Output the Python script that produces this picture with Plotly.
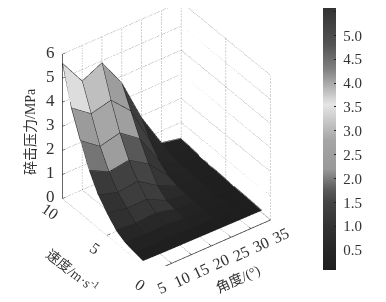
import plotly.graph_objects as go

# Data
angle = [5, 10, 15, 20, 25, 30, 35]
speed = [1, 2, 3, 4, 5, 6, 7, 8, 9, 10]
pressure = [
    [0.15, 0.13, 0.12, 0.11, 0.10, 0.09, 0.08],
    [0.22, 0.20, 0.20, 0.17, 0.14, 0.12, 0.10],
    [0.30, 0.27, 0.30, 0.22, 0.17, 0.14, 0.12],
    [0.50, 0.43, 0.50, 0.28, 0.20, 0.16, 0.13],
    [0.90, 0.75, 0.75, 0.35, 0.24, 0.18, 0.15],
    [1.35, 1.10, 1.20, 0.66, 0.28, 0.21, 0.17],
    [2.07, 1.65, 1.77, 1.25, 0.40, 0.24, 0.19],
    [3.00, 2.40, 2.60, 2.00, 0.70, 0.28, 0.22],
    [4.05, 3.45, 3.65, 2.85, 1.20, 0.36, 0.27],
    [5.60, 4.50, 4.90, 3.70, 1.90, 0.50, 0.33],
]
# Colour value of each face, read against the colour bar
face_value = [
    [0.15, 0.15, 0.15, 0.12, 0.10, 0.08],
    [0.30, 0.30, 0.30, 0.25, 0.15, 0.10],
    [0.50, 0.60, 0.60, 0.35, 0.20, 0.12],
    [0.90, 1.10, 1.10, 0.50, 0.25, 0.15],
    [1.00, 1.30, 1.30, 0.70, 0.30, 0.15],
    [1.20, 1.40, 1.50, 1.10, 0.35, 0.20],
    [1.95, 2.40, 1.75, 1.10, 0.40, 0.20],
    [2.30, 2.80, 2.50, 1.35, 0.50, 0.25],
    [3.45, 3.10, 2.40, 1.30, 0.60, 0.30],
]
x_ticks = [5, 10, 15, 20, 25, 30, 35]
y_ticks = [0, 5, 10]
z_ticks = [0, 1, 2, 3, 4, 5, 6]
cbar_ticks = [0.5, 1.0, 1.5, 2.0, 2.5, 3.0, 3.5, 4.0, 4.5, 5.0, 5.5]
cbar_values = [0.08, 0.5, 1.0, 1.5, 1.75, 2.2, 2.8, 3.55, 4.3, 4.8, 5.7]
cbar_grays = [0.12, 0.15, 0.2, 0.27, 0.35, 0.6, 0.65, 0.9, 0.5, 0.33, 0.18]

CMIN, CMAX = cbar_values[0], cbar_values[-1]
colorscale = [[(v - CMIN) / (CMAX - CMIN), f"rgb({int(g*255)},{int(g*255)},{int(g*255)})"]
              for v, g in zip(cbar_values, cbar_grays)]
SERIF = "Liberation Serif, Noto Sans CJK SC, serif"

vx, vy, vz, ii, jj, kk, cell = [], [], [], [], [], [], []
nx, ny = len(angle), len(speed)
for r in range(ny):
    for c in range(nx):
        vx.append(angle[c]); vy.append(speed[r]); vz.append(pressure[r][c])
for r in range(ny - 1):
    for c in range(nx - 1):
        a = r * nx + c; b = a + 1; d = a + nx; e = d + 1
        ii += [a, a]; jj += [b, e]; kk += [e, d]
        cell += [face_value[r][c], face_value[r][c]]

fig = go.Figure()
fig.add_trace(go.Mesh3d(
    x=vx, y=vy, z=vz, i=ii, j=jj, k=kk, intensity=cell, intensitymode="cell",
    colorscale=colorscale, cmin=CMIN, cmax=CMAX, flatshading=True,
    lighting=dict(ambient=1, diffuse=0, specular=0, roughness=1, fresnel=0),
    hoverinfo="skip",
    colorbar=dict(
        x=315 / 386, xanchor="left", y=1 - 128 / 302, yanchor="middle", yref="paper",
        len=268 / 302, lenmode="fraction", thickness=13, thicknessmode="pixels",
        tickvals=cbar_ticks, ticktext=[f"\u00a0{t:.1f}" for t in cbar_ticks],
        ticks="inside", ticklen=2, tickcolor="#222", outlinewidth=0, xpad=0, ypad=0,
        tickfont=dict(family=SERIF, size=15, color="#333"),
    ),
))

def add_lines(xs, ys, zs, color, width, dash="solid"):
    fig.add_trace(go.Scatter3d(x=xs, y=ys, z=zs, mode="lines", hoverinfo="skip",
                               showlegend=False, line=dict(color=color, width=width, dash=dash)))

for r in range(ny):
    add_lines(angle, [speed[r]] * nx, [pressure[r][c] + 0.02 for c in range(nx)], "#222222", 1.1)
for c in range(nx):
    add_lines([angle[c]] * ny, speed, [pressure[r][c] + 0.02 for r in range(ny)], "#222222", 1.1)

x0, x1, y0, y1, z0, z1 = x_ticks[0], x_ticks[-1], y_ticks[0], y_ticks[-1], z_ticks[0], z_ticks[-1]
GRID = "#6e6e6e"
for z in z_ticks:
    add_lines([x0, x1, x1], [y1, y1, y0], [z, z, z], GRID, 1.2, "dot")
for x in x_ticks:
    add_lines([x, x, x], [y0, y1, y1], [z0, z0, z1], GRID, 1.2, "dot")
for y in y_ticks:
    add_lines([x0, x1, x1], [y, y, y], [z0, z0, z1], GRID, 1.2, "dot")

AX = "#333333"
add_lines([x0, x0, x1], [y1, y0, y0], [z0, z0, z0], AX, 1.5)
add_lines([x0, x0], [y1, y1], [z0, z1], AX, 1.5)
# Short inward tick marks
for x in x_ticks:
    add_lines([x, x], [y0, y0 + 0.25], [z0, z0], AX, 1.2)
for y in y_ticks:
    add_lines([x0, x0 + 0.7], [y, y], [z0, z0], AX, 1.2)
for z in z_ticks:
    add_lines([x0, x0 + 0.7], [y1, y1], [z, z], AX, 1.2)

TICK_FONT = dict(family=SERIF, size=16, color="#333")
annos = []
for x in x_ticks:
    annos.append(dict(x=x, y=y0, z=z0, text=str(x), showarrow=False, textangle=-25,
                      xshift=10, yshift=-16, font=TICK_FONT))
for y in y_ticks:
    annos.append(dict(x=x0, y=y, z=z0, text=str(y), showarrow=False, textangle=35,
                      xshift=-12, yshift=-13, font=TICK_FONT))
for z in z_ticks:
    annos.append(dict(x=x0, y=y1, z=z, text=str(z), showarrow=False,
                      xshift=-12, yshift=2, font=dict(family=SERIF, size=17, color="#333")))

hidden = dict(visible=False, showgrid=False, zeroline=False, showbackground=False)
TITLE_FONT = dict(family=SERIF, size=14, color="#333")
fig.update_layout(
    width=386, height=302, showlegend=False,
    margin=dict(l=0, r=0, t=0, b=0, autoexpand=False), paper_bgcolor="white",
    scene=dict(
        domain=dict(x=[0, 317 / 386], y=[44 / 302, 1]),
        xaxis=dict(range=[x0, x1], **hidden),
        yaxis=dict(range=[y0, y1], **hidden),
        zaxis=dict(range=[z0, z1], **hidden),
        aspectmode="manual", aspectratio=dict(x=1.14, y=1.175, z=1.40),
        camera=dict(projection=dict(type="orthographic"),
                    up=dict(x=0, y=0, z=1),
                    eye=dict(x=-0.662, y=-0.906, z=0.842)),
        annotations=annos,
    ),
    annotations=[
        dict(x=22 / 386, y=1 - 124 / 302, xref="paper", yref="paper", xanchor="center", yanchor="middle",
             showarrow=False, text="碎击压力/MPa", textangle=-90, font=TITLE_FONT),
        dict(x=64 / 386, y=1 - 262 / 302, xref="paper", yref="paper", xanchor="center", yanchor="middle",
             showarrow=False, text="速度/m·s<sup>-1</sup>", textangle=38, font=TITLE_FONT),
        dict(x=230 / 386, y=1 - 272 / 302, xref="paper", yref="paper", xanchor="center", yanchor="middle",
             showarrow=False, text="角度/(°)", textangle=-25, font=TITLE_FONT),
    ],
)
fig.write_html("out.html")
